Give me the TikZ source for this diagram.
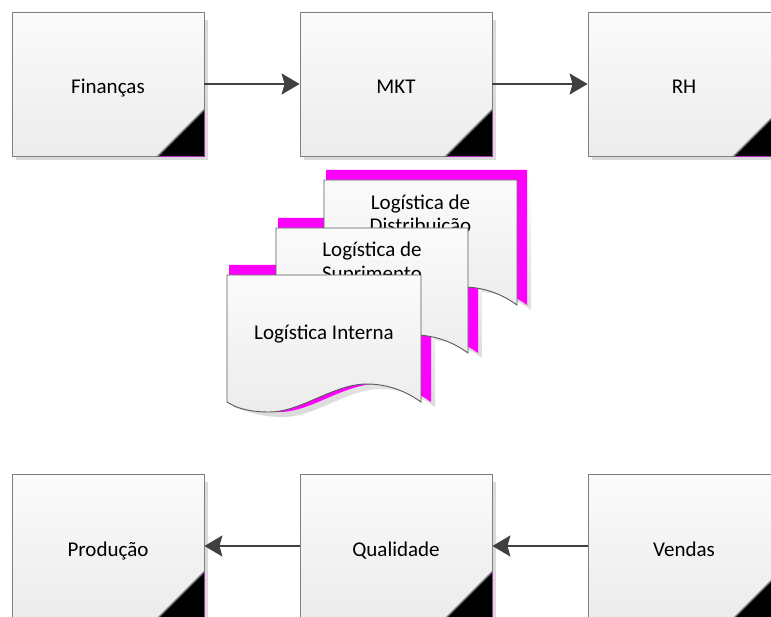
\documentclass[tikz,border=0pt]{standalone}
\usepackage{fontspec}
\setmainfont{Carlito}
\usetikzlibrary{arrows.meta}

\definecolor{boxline}{HTML}{7F7F7F}
\definecolor{boxtop}{HTML}{FBFBFB}
\definecolor{boxbottom}{HTML}{ECECEC}
\definecolor{boxshade}{HTML}{DADADA}
\definecolor{rim}{HTML}{A030A8}
\definecolor{flowgray}{HTML}{404040}
\definecolor{docline}{HTML}{5A5A5A}
\definecolor{backpage}{HTML}{FF00FF}

\tikzset{
  procnode/.style={rectangle, draw=boxline, line width=0.8pt,
    top color=boxtop, bottom color=boxbottom,
    minimum width=192pt, minimum height=144pt, inner sep=0pt,
    text height=20pt, text depth=0pt,
    font=\fontsize{21}{25}\selectfont},
  boxshadow/.style={fill=boxshade},
  cornerline/.style={draw=gray, line width=1.4pt},
  cornerrim/.style={draw=rim, line width=0.7pt},
  flow/.style={draw=flowgray, line width=2pt,
    -{Stealth[length=18pt,width=21pt,inset=3pt]}},
  docfront/.style={draw=docline, line width=0.9pt,
    top color=boxtop, bottom color=boxbottom},
  docback/.style={fill=backpage},
  docshadow/.style={top color=white, bottom color=boxshade, draw=none},
  doctext/.style={anchor=base, inner sep=0pt,
    font=\fontsize{21}{25}\selectfont}
}

% process box: name, centre x, centre y, label
\newcommand{\procbox}[4]{%
  \fill[boxshadow] (#2-92,#3-64) rectangle (#2+100,#3+76);
  \node[procnode] (#1) at (#2,#3) {#4};
  \fill[black] ([xshift=-47pt]#1.south east) -- (#1.south east)
    -- ([yshift=47pt]#1.south east) -- cycle;
  \draw[cornerrim] ([xshift=-46pt]#1.south east) -- (#1.south east)
    -- ([yshift=46pt]#1.south east);
  \draw[cornerline] ([xshift=-47pt]#1.south east)
    -- ([yshift=47pt]#1.south east);
}

% document outline with a wavy lower edge: left, top, width, height
\newcommand{\docpath}[4]{%
  (#1,#2) -- ({#1+#3},#2) -- ({#1+#3},{#2+#4})
  .. controls ({#1+0.9*#3},{#2+#4-14}) and ({#1+0.8*#3},{#2+#4-18})
  .. ({#1+0.72*#3},{#2+#4-18})
  .. controls ({#1+0.55*#3},{#2+#4-18}) and ({#1+0.38*#3},{#2+#4+10})
  .. ({#1+0.22*#3},{#2+#4+10})
  .. controls ({#1+0.1*#3},{#2+#4+10}) and ({#1+0.04*#3},{#2+#4+5})
  .. (#1,{#2+#4}) -- cycle}

% shadow and coloured back page of a document
\newcommand{\docbehind}[4]{%
  \path[docshadow] \docpath{#1+6}{#2-5}{#3+8}{#4+10};
  \path[docback] \docpath{#1+2}{#2-10}{#3+8}{#4+10};
}

\begin{document}
\begin{tikzpicture}[x=1pt,y=-1pt]
  \useasboundingbox (0,0) rectangle (771,617);
  \clip (0,0) rectangle (771,617);
  \fill[white] (0,0) rectangle (771,617);

  % upper row
  \procbox{fin}{108}{84}{Finanças}
  \procbox{mkt}{396}{84}{MKT}
  \procbox{rh}{684}{84}{RH}
  \draw[flow] (fin.east) -- (mkt.west);
  \draw[flow] (mkt.east) -- (rh.west);

  % lower row
  \procbox{prod}{108}{546}{Produção}
  \procbox{qual}{396}{546}{Qualidade}
  \procbox{vend}{684}{546}{Vendas}
  \draw[flow] (vend.west) -- (qual.east);
  \draw[flow] (qual.west) -- (prod.east);

  % stacked logistics documents
  \docbehind{324}{180}{193}{125}
  \docbehind{276}{228}{192}{125}
  \docbehind{227}{275}{194}{127}

  \path[docfront] \docpath{324}{180}{193}{125};
  \node[doctext] (dist1) at (420.5,210) {Logística de};
  \node[doctext] (dist2) at (420.5,233) {Distribuição};

  \path[docfront] \docpath{276}{228}{192}{125};
  \node[doctext] (sup1) at (372,257) {Logística de};
  \node[doctext] (sup2) at (372,281) {Suprimento};

  \path[docfront] \docpath{227}{275}{194}{127};
  \node[doctext] (int) at (324,340) {Logística Interna};
\end{tikzpicture}
\end{document}
